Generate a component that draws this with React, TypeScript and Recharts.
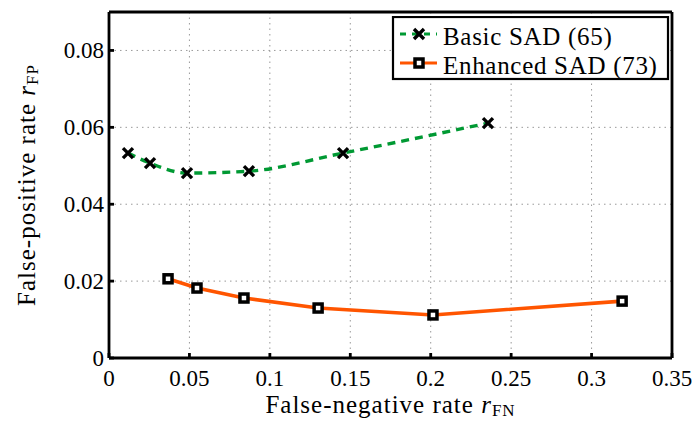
import { LineChart, Line, XAxis, YAxis, CartesianGrid } from 'recharts';

// Basic SAD (65): false-negative vs false-positive rate
const basicFN = [0.0118, 0.0255, 0.0485, 0.087, 0.1455, 0.2356];
const basicFP = [0.0533, 0.0507, 0.0481, 0.0486, 0.0533, 0.0611];

// Enhanced SAD (73)
const enhancedFN = [0.0367, 0.0547, 0.0839, 0.13, 0.2014, 0.319];
const enhancedFP = [0.0206, 0.0182, 0.0156, 0.013, 0.0112, 0.0148];

const seriesNames = ['Basic SAD (65)', 'Enhanced SAD (73)'];
const xTicks = [0, 0.05, 0.1, 0.15, 0.2, 0.25, 0.3, 0.35];
const yTicks = [0, 0.02, 0.04, 0.06, 0.08];

const GREEN = '#009933';
const ORANGE = '#ff5500';
const FONT = "'Liberation Serif', 'DejaVu Serif', serif";

const basicData = basicFN.map((fn, i) => ({ fn, fp: basicFP[i] }));
const enhancedData = enhancedFN.map((fn, i) => ({ fn, fp: enhancedFP[i] }));

const CrossDot = (props: any) => {
  const { cx, cy } = props;
  if (cx == null || cy == null) return null;
  const s = 5;
  return (
    <path
      d={`M${cx - s},${cy - s}L${cx + s},${cy + s}M${cx - s},${cy + s}L${cx + s},${cy - s}`}
      stroke="#000"
      strokeWidth={3.4}
      fill="none"
    />
  );
};

const SquareDot = (props: any) => {
  const { cx, cy } = props;
  if (cx == null || cy == null) return null;
  return <rect x={cx - 4} y={cy - 4} width={8} height={8} fill="#fff" stroke="#000" strokeWidth={3.5} />;
};

const XTick = (props: any) => {
  const { x, y, payload } = props;
  return (
    <text x={x} y={y + 33} textAnchor="middle" fontFamily={FONT} fontSize={23} fill="#000">
      {String(payload.value)}
    </text>
  );
};

const YTick = (props: any) => {
  const { x, y, payload } = props;
  return (
    <text x={x} y={y + 8} textAnchor="end" fontFamily={FONT} fontSize={23} fill="#000">
      {String(payload.value)}
    </text>
  );
};

const XTitle = (props: any) => {
  const { viewBox } = props;
  const cx = viewBox.x + viewBox.width / 2;
  return (
    <text x={cx} y={viewBox.y + 55} textAnchor="middle" fontFamily={FONT} fontSize={25} letterSpacing={1} fill="#000">
      False-negative rate <tspan fontStyle="italic">r</tspan>
      <tspan fontSize={17} dy={3}>FN</tspan>
    </text>
  );
};

const YTitle = (props: any) => {
  const { viewBox } = props;
  const cy = viewBox.y + viewBox.height / 2;
  const cx = 35;
  return (
    <text x={cx} y={cy} transform={`rotate(-90, ${cx}, ${cy})`} textAnchor="middle" fontFamily={FONT} fontSize={25} letterSpacing={1} fill="#000">
      False-positive rate <tspan fontStyle="italic">r</tspan>
      <tspan fontSize={17} dy={3}>FP</tspan>
    </text>
  );
};

const LegendBox = () => (
  <svg style={{ position: 'absolute', left: 391, top: 16 }} width={279} height={65}>
    <rect x={2} y={1} width={275} height={62} fill="#fff" stroke="#000" strokeWidth={2.2} />
    {seriesNames.map((name, i) => {
      const cy = 18 + i * 29;
      return (
        <g key={name}>
          <line x1={9} y1={cy} x2={46} y2={cy} stroke={i === 0 ? GREEN : ORANGE} strokeWidth={3} strokeDasharray={i === 0 ? '6 6' : undefined} />
          {i === 0 ? <CrossDot cx={28} cy={cy} /> : <SquareDot cx={28} cy={cy} />}
          <text x={52} y={cy + 11} fontFamily={FONT} fontSize={25} letterSpacing={0.7} fill="#000">{name}</text>
        </g>
      );
    })}
  </svg>
);

export default function App() {
  return (
    <div style={{ position: 'absolute', left: 0, top: 0, width: 696, height: 422, background: '#fff' }}>
      <LineChart width={696} height={422} margin={{ top: 11, right: 23, bottom: 0, left: 0 }}>
        <CartesianGrid stroke="#999" strokeDasharray="1.5 4" />
        <XAxis
          dataKey="fn" type="number" domain={[0, 0.35]} ticks={xTicks} allowDataOverflow
          height={64} tickSize={-5} tickMargin={0} stroke="#000" strokeWidth={2.8}
          tick={<XTick />} label={<XTitle />}
        />
        <YAxis
          type="number" domain={[0, 0.09]} ticks={yTicks} allowDataOverflow
          width={109} tickSize={-5} tickMargin={10} stroke="#000" strokeWidth={2.8}
          tick={<YTick />} label={<YTitle />}
        />
        <XAxis xAxisId="top" orientation="top" type="number" domain={[0, 0.35]} ticks={xTicks} allowDataOverflow
          height={1} tick={false} tickSize={-5} stroke="#000" strokeWidth={2.8} />
        <YAxis yAxisId="right" orientation="right" type="number" domain={[0, 0.09]} ticks={yTicks} allowDataOverflow
          width={1} tick={false} tickSize={-5} stroke="#000" strokeWidth={2.8} />
        <Line
          data={basicData} dataKey="fp" type="monotone" stroke={GREEN} strokeWidth={3.4}
          strokeDasharray="8 6" dot={<CrossDot />} activeDot={false} isAnimationActive={false}
        />
        <Line
          data={enhancedData} dataKey="fp" type="linear" stroke={ORANGE} strokeWidth={3.6}
          dot={<SquareDot />} activeDot={false} isAnimationActive={false}
        />
      </LineChart>
      <LegendBox />
    </div>
  );
}
